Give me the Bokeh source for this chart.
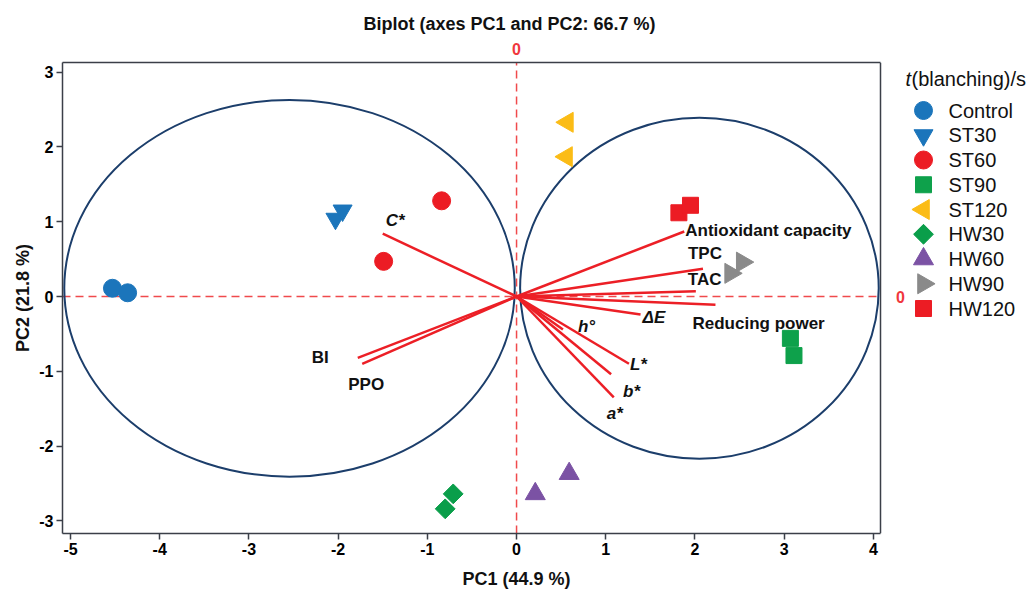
import math
from bokeh.plotting import figure
from bokeh.models import Range1d, LinearAxis, FixedTicker, Label
from bokeh.embed import file_html
from bokeh.resources import INLINE

# ---------------- data ----------------
groups = ["Control", "ST30", "ST60", "ST90", "ST120", "HW30", "HW60", "HW90", "HW120"]
pc1_control = [-4.53, -4.36]
pc2_control = [0.11, 0.05]
pc1_st30 = [-2.03, -1.95]
pc2_st30 = [1.04, 1.15]
pc1_st60 = [-0.84, -1.49]
pc2_st60 = [1.28, 0.47]
pc1_st90 = [3.07, 3.11]
pc2_st90 = [-0.56, -0.79]
pc1_st120 = [0.57, 0.56]
pc2_st120 = [2.33, 1.87]
pc1_hw30 = [-0.71, -0.80]
pc2_hw30 = [-2.64, -2.84]
pc1_hw60 = [0.21, 0.59]
pc2_hw60 = [-2.64, -2.37]
pc1_hw90 = [2.53, 2.40]
pc2_hw90 = [0.46, 0.31]
pc1_hw120 = [1.82, 1.95]
pc2_hw120 = [1.12, 1.22]

var_names = ["Antioxidant capacity", "TPC", "TAC", "Reducing power", "\u0394E",
             "h\u00b0", "L*", "b*", "a*", "C*", "BI", "PPO"]
load_pc1 = [1.88, 2.09, 2.01, 2.23, 1.39, 0.52, 1.26, 1.06, 1.09, -1.50, -1.78, -1.73]
load_pc2 = [0.87, 0.37, 0.07, -0.11, -0.24, -0.44, -0.90, -1.04, -1.35, 0.84, -0.82, -0.90]

circle_cx = [-2.545, 2.05]
circle_cy = [0.11, 0.11]
circle_w = [5.05, 4.02]
circle_h = [5.04, 4.56]

x_ticks = [-5, -4, -3, -2, -1, 0, 1, 2, 3, 4]
y_ticks = [-3, -2, -1, 0, 1, 2, 3]

title_text = "Biplot (axes PC1 and PC2: 66.7 %)"
xlabel_text = "PC1 (44.9 %)"
ylabel_text = "PC2 (21.8 %)"

# ---------------- layout ----------------
W, H = 1030, 591
FL, FT, FR, FB = 62, 62, 880, 533          # page px of the boxed frame
XMIN, XBOX, YMIN, YMAX = -5.09, 4.08, -3.17, 3.13
PPX = (FR - FL) / (XBOX - XMIN)
PPY = (FB - FT) / (YMAX - YMIN)
XMAX = XMIN + (W - FL) / PPX


def px2x(px):
    return XMIN + (px - FL) / PPX


def px2y(py):
    return YMAX - (py - FT) / PPY


FONT = "Liberation Sans"
FRAME_COL = "#3b3f48"
DASH_COL = "#f04a4c"
VEC_COL = "#ec1f26"
CIRC_COL = "#1c3e6b"
ZERO_COL = "#f0373d"
TXT = "#111111"

styles = {
    "Control": dict(marker="circle", color="#1b75bb", size=18, angle=0.0),
    "ST30": dict(marker="inverted_triangle", color="#1b75bb", size=19, angle=0.0),
    "ST60": dict(marker="circle", color="#ec1c24", size=18, angle=0.0),
    "ST90": dict(marker="square", color="#0ea14b", size=16, angle=0.0),
    "ST120": dict(marker="triangle", color="#fbbc16", size=20, angle=math.pi / 2),
    "HW30": dict(marker="square", color="#0a9e4a", size=14, angle=math.pi / 4),
    "HW60": dict(marker="triangle", color="#7b52a4", size=20, angle=0.0),
    "HW90": dict(marker="triangle", color="#8a8a8a", size=20, angle=-math.pi / 2),
    "HW120": dict(marker="square", color="#ec1c24", size=16, angle=0.0),
}
group_data = {
    "Control": (pc1_control, pc2_control),
    "ST30": (pc1_st30, pc2_st30),
    "ST60": (pc1_st60, pc2_st60),
    "ST90": (pc1_st90, pc2_st90),
    "ST120": (pc1_st120, pc2_st120),
    "HW30": (pc1_hw30, pc2_hw30),
    "HW60": (pc1_hw60, pc2_hw60),
    "HW90": (pc1_hw90, pc2_hw90),
    "HW120": (pc1_hw120, pc2_hw120),
}

p = figure(width=W, height=H, x_range=Range1d(XMIN, XMAX), y_range=Range1d(YMIN, YMAX),
           output_backend="svg", toolbar_location=None,
           min_border_left=FL, min_border_right=0, min_border_top=FT,
           min_border_bottom=H - FB)
p.outline_line_color = None
p.grid.visible = False
p.background_fill_color = "white"
p.border_fill_color = "white"

# title
p.title.text = title_text
p.title.align = "left"
p.title.offset = 301
p.title.text_font = FONT
p.title.text_font_style = "bold"
p.title.text_font_size = "18px"
p.title.text_color = TXT
p.title.standoff = 12

# axes
for ax, ticks in ((p.xaxis[0], x_ticks), (p.yaxis[0], y_ticks)):
    ax.ticker = FixedTicker(ticks=ticks)
    ax.major_label_overrides = {t: str(t) for t in ticks}
    ax.major_label_text_font = FONT
    ax.major_label_text_font_style = "bold"
    ax.major_label_text_font_size = "16px"
    ax.major_label_text_color = "black"
    ax.axis_line_color = FRAME_COL
    ax.axis_line_width = 1.5
    ax.major_tick_line_color = FRAME_COL
    ax.major_tick_line_width = 1.5
    ax.major_tick_out = 6
    ax.major_tick_in = 0
    ax.minor_tick_out = 0
    ax.minor_tick_in = 0
    ax.major_label_standoff = 3
p.xaxis.bounds = (XMIN, XBOX)
p.yaxis.axis_label = ylabel_text
p.yaxis.axis_label_text_font = FONT
p.yaxis.axis_label_text_font_style = "bold"
p.yaxis.axis_label_text_font_size = "18px"
p.yaxis.axis_label_text_color = TXT
p.yaxis.axis_label_standoff = 3

# second bottom axis carrying the PC1 title at x = 0 (centre of the original chart)
xlab_axis = LinearAxis(ticker=FixedTicker(ticks=[0]), major_label_overrides={0: xlabel_text},
                       axis_line_color=None, major_tick_out=0, major_tick_in=0,
                       minor_tick_out=0, minor_tick_in=0, major_label_standoff=11,
                       major_label_text_font=FONT, major_label_text_font_style="bold",
                       major_label_text_font_size="18px", major_label_text_color=TXT)
p.add_layout(xlab_axis, "below")

# top axis: box top line plus red zero marker
top_axis = LinearAxis(ticker=FixedTicker(ticks=[0]), bounds=(XMIN, XBOX),
                      axis_line_color=FRAME_COL, axis_line_width=1.5,
                      major_tick_out=0, major_tick_in=0, minor_tick_out=0, minor_tick_in=0,
                      major_label_standoff=8, major_label_text_font=FONT,
                      major_label_text_font_style="bold", major_label_text_font_size="16px",
                      major_label_text_color=ZERO_COL)
p.add_layout(top_axis, "above")
# right edge of the box
p.segment(x0=[XBOX], y0=[YMIN], x1=[XBOX], y1=[YMAX], line_color=FRAME_COL, line_width=1.5)

# zero lines
p.segment(x0=[0, XMIN], y0=[YMIN, 0], x1=[0, XBOX], y1=[YMAX, 0],
          line_color=DASH_COL, line_width=1.5, line_dash="8 5")

# circles
p.ellipse(x=circle_cx, y=circle_cy, width=circle_w, height=circle_h,
          fill_color=None, line_color=CIRC_COL, line_width=2)

# loading vectors
p.segment(x0=[0] * len(load_pc1), y0=[0] * len(load_pc2), x1=load_pc1, y1=load_pc2,
          line_color=VEC_COL, line_width=2.5)

# scores
for g in groups:
    st = styles[g]
    xs, ys = group_data[g]
    p.scatter(x=xs, y=ys, marker=st["marker"], size=st["size"], angle=st["angle"],
              fill_color=st["color"], line_color=st["color"])

# vector labels: pixel offsets from vector ends (dx right, dy down), alignment, italic?
label_offsets = {
    "Antioxidant capacity": (1, -1, "left", False),
    "TPC": (-15, -15, "left", False),
    "TAC": (-8, -12, "left", False),
    "Reducing power": (-23, 19, "left", False),
    "\u0394E": (2, 3, "left", True),
    "h\u00b0": (15, -3, "left", True),
    "L*": (1, 1, "left", True),
    "b*": (12, 17, "left", True),
    "a*": (-7, 16, "left", True),
    "C*": (3, -13, "left", True),
    "BI": (-29, 0, "right", False),
    "PPO": (-14, 21, "left", False),
}
for name, vx, vy in zip(var_names, load_pc1, load_pc2):
    dx, dy, al, it = label_offsets[name]
    p.add_layout(Label(x=vx + dx / PPX, y=vy - dy / PPY, text=name, text_font=FONT,
                       text_font_style="bold italic" if it else "bold",
                       text_font_size="17px", text_color=TXT,
                       text_align=al, text_baseline="middle"))

# red zero marker on the right
p.add_layout(Label(x=px2x(900), y=0, text="0", text_font=FONT, text_font_style="bold",
                   text_font_size="16px", text_color=ZERO_COL,
                   text_align="center", text_baseline="middle"))

# legend (drawn manually)
p.add_layout(Label(x=px2x(905), y=px2y(78), text="t", text_font=FONT,
                   text_font_style="italic", text_font_size="20px", text_color=TXT,
                   text_align="left", text_baseline="middle"))
p.add_layout(Label(x=px2x(911), y=px2y(78), text="(blanching)/s", text_font=FONT,
                   text_font_size="20px", text_color=TXT,
                   text_align="left", text_baseline="middle"))
LEG_Y0, LEG_DY = 110, 24.75
for i, g in enumerate(groups):
    st = styles[g]
    ly = px2y(LEG_Y0 + i * LEG_DY)
    p.scatter(x=[px2x(923)], y=[ly], marker=st["marker"], size=st["size"], angle=st["angle"],
              fill_color=st["color"], line_color=st["color"])
    p.add_layout(Label(x=px2x(948), y=ly, text=g, text_font=FONT, text_font_size="20px",
                       text_color=TXT, text_align="left", text_baseline="middle"))

open("out.html", "w").write(file_html(p, INLINE))
